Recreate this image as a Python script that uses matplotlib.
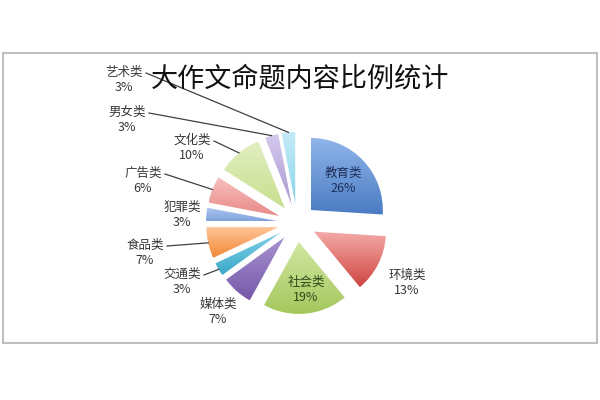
import numpy as np
import matplotlib
matplotlib.use("Agg")
import matplotlib.pyplot as plt
from matplotlib.colors import to_rgb
from matplotlib.patches import Rectangle

plt.rcParams["font.family"] = ["Noto Sans CJK SC", "DejaVu Sans"]

title = "大作文命题内容比例统计"
categories = ["教育类", "环境类", "社会类", "媒体类", "交通类", "食品类",
              "犯罪类", "广告类", "文化类", "男女类", "艺术类"]
shares = [26, 13, 19, 7, 3, 7, 3, 6, 10, 3, 3]

# light (top) and saturated (bottom) end of each slice gradient
top_colors = ["#8fb5ea", "#f4aaa8", "#d2e7a2", "#a993d0", "#84d2e9", "#ffc495",
              "#b0c8f0", "#f6c0be", "#e3efc2", "#d4c9ec", "#c4ecf8"]
bottom_colors = ["#4a7bc2", "#cf4642", "#a4c75c", "#7659aa", "#3aa8c9", "#f18838",
                 "#80a2dd", "#e98a88", "#c7df8e", "#ab9ad3", "#8ad3ea"]

# label layout, in image pixels (text centre)
label_pos = [(343, 181), (407, 283), (306, 290), (218, 312), (182, 282), (145, 253),
             (182, 215), (143, 181), (192, 148), (127, 120), (124, 80)]
inside = [True, False, True, False, False, False, False, False, False, False, False]
leader = [False, False, False, False, True, True, False, True, True, True, True]

W, H = 600, 400
fig = plt.figure(figsize=(6, 4), dpi=100)
ax = fig.add_axes([0, 0, 1, 1])


def Y(y):
    return H - y


cx, cy, R = 297, Y(223), 72
wedges, _ = ax.pie(shares, startangle=90, counterclock=False, radius=R,
                   center=(cx, cy), explode=[19] * len(shares), frame=True,
                   wedgeprops=dict(linewidth=0))

for w, ct, cb in zip(wedges, top_colors, bottom_colors):
    ext = w.get_path().get_extents()
    grad = np.linspace(to_rgb(cb), to_rgb(ct), 64)[:, None, :]
    im = ax.imshow(grad, extent=[ext.x0, ext.x1, ext.y0, ext.y1], origin="lower",
                   interpolation="bilinear", zorder=2)
    im.set_clip_path(w)
    w.set_facecolor("none")

for i, (cat, val) in enumerate(zip(categories, shares)):
    lx, ly = label_pos[i]
    if inside[i]:
        color = "#1f2f5a" if i == 0 else "#2e4a1a"
    else:
        color = "#383838"
    ax.text(lx, Y(ly), f"{cat}\n{val}%", ha="center", va="center", fontsize=9,
            color=color, linespacing=1.25, zorder=4)
    if leader[i]:
        w = wedges[i]
        tm = np.deg2rad((w.theta1 + w.theta2) / 2)
        tx = w.center[0] + w.r * np.cos(tm)
        ty = w.center[1] + w.r * np.sin(tm)
        sx, sy = lx + 22, Y(ly - 7)
        ax.plot([sx, tx], [sy, ty], color="#404040", lw=0.9, zorder=3)

ax.text(300, Y(79), title, fontsize=19.5, ha="center", va="center",
        color="#111111", zorder=4)

ax.add_patch(Rectangle((3, Y(343)), 594, 290, fill=False, edgecolor="#bfbfbf", lw=1.5))

ax.set_xlim(0, W)
ax.set_ylim(0, H)
ax.set_aspect("equal")
ax.axis("off")
fig.savefig("out.png", dpi=100)
